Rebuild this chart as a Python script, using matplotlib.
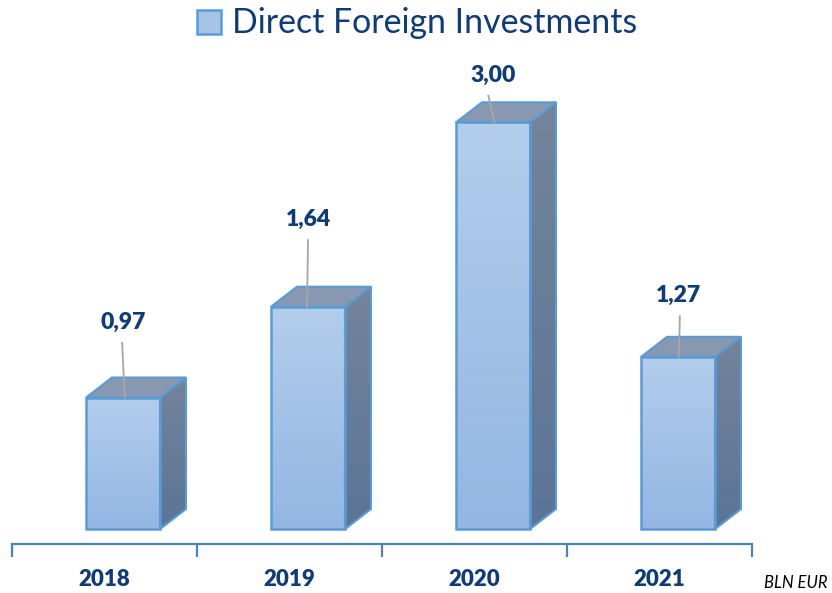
import numpy as np
import matplotlib.pyplot as plt
from matplotlib.colors import LinearSegmentedColormap
from matplotlib.patches import Polygon, Rectangle

years = ['2018', '2019', '2020', '2021']
values = [0.97, 1.64, 3.00, 1.27]
value_labels = ['0,97', '1,64', '3,00', '1,27']

# label height above bar top and leader line x tweaks (data units)
label_offset = [0.553, 0.642, 0.347, 0.45]
leader_dx = [(-0.005, 0.01), (0.0, -0.005), (-0.025, 0.008), (0.01, 0.005)]

edge_c = '#5b9bd5'
top_c = '#8898b0'
navy = '#0f3b78'

plt.rcParams['font.family'] = ['Lato', 'DejaVu Sans']

fig = plt.figure(figsize=(8.32, 5.93), dpi=100)
ax = fig.add_axes([12 / 832, 49 / 593, 740 / 832, 484 / 593])
ax.set_xlim(-0.6, 3.4)
ax.set_ylim(-0.11, 3.46)

w = 0.4          # front face width
ddx = 0.1405     # depth x
ddy = 0.148      # depth y

front_cm = LinearSegmentedColormap.from_list('f', ['#93b6e3', '#b3cdec'])
side_cm = LinearSegmentedColormap.from_list('s', ['#5b7596', '#74849b'])
grad = np.linspace(0, 1, 256).reshape(-1, 1)

for i, v in enumerate(values):
    x0, x1 = i - w / 2, i + w / 2
    # front face gradient
    front = Rectangle((x0, 0), w, v, facecolor='none', edgecolor='none')
    ax.add_patch(front)
    im = ax.imshow(grad, cmap=front_cm, extent=(x0, x1, 0, v), origin='lower',
                   aspect='auto', zorder=2)
    im.set_clip_path(front)
    ax.add_patch(Rectangle((x0, 0), w, v, facecolor='none', edgecolor=edge_c,
                           lw=1.8, zorder=4))
    # side face
    side_pts = [(x1, 0), (x1 + ddx, ddy), (x1 + ddx, v + ddy), (x1, v)]
    side = Polygon(side_pts, closed=True, facecolor='none', edgecolor='none')
    ax.add_patch(side)
    im2 = ax.imshow(grad, cmap=side_cm, extent=(x1, x1 + ddx, 0, v + ddy),
                    origin='lower', aspect='auto', zorder=2)
    im2.set_clip_path(side)
    ax.add_patch(Polygon(side_pts, closed=True, facecolor='none',
                         edgecolor=edge_c, lw=1.5, zorder=3))
    # top face
    top_pts = [(x0, v), (x0 + ddx, v + ddy), (x1 + ddx, v + ddy), (x1, v)]
    ax.add_patch(Polygon(top_pts, closed=True, facecolor=top_c,
                         edgecolor=edge_c, lw=1.5, zorder=3))
    # value label + leader line
    ly = v + label_offset[i]
    ax.text(i, ly, value_labels[i], ha='center', va='center', fontsize=16.5,
            fontweight='heavy', color=navy, zorder=6)
    ax.plot([i + leader_dx[i][0], i + leader_dx[i][1]], [ly - 0.15, v],
            color='#a6a6a6', lw=1.3, zorder=5)

# axis
for s in ['top', 'right', 'left']:
    ax.spines[s].set_visible(False)
ax.spines['bottom'].set_color('#4f81bd')
ax.spines['bottom'].set_linewidth(1.6)
ax.set_yticks([])
ax.set_xticks([-0.6, 0.4, 1.4, 2.4, 3.4])
ax.set_xticklabels([])
ax.tick_params(axis='x', which='major', direction='out', length=9,
               width=1.6, color='#4f81bd')
ax.set_xticks([i - 0.1 for i in range(len(years))], minor=True)
ax.set_xticklabels(years, minor=True, fontsize=16, fontweight='heavy',
                   color=navy)
ax.tick_params(axis='x', which='minor', length=0, pad=18)

# title with legend square
fig.text(232 / 832, 1 - 23 / 593, 'Direct Foreign Investments', ha='left',
         va='center', fontsize=24.4, color=navy)
fig.patches.append(Rectangle((197 / 832, 1 - 34 / 593), 24 / 832, 24 / 593,
                             transform=fig.transFigure, facecolor='#a6c3e8',
                             edgecolor=edge_c, lw=1.8))

fig.text(828 / 832, 1 - 583 / 593, 'BLN EUR', ha='right', va='center',
         fontsize=12, style='italic', color='#000000')

fig.savefig('out.png', dpi=100)
